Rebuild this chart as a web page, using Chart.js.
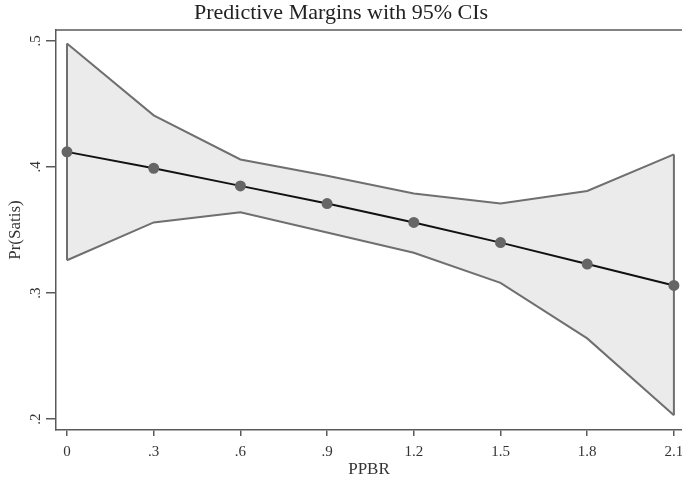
<!DOCTYPE html>
<html>
<head>
<meta charset="utf-8">
<script src="https://cdn.jsdelivr.net/npm/chart.js@4.4.0/dist/chart.umd.min.js"></script>
<style>
  body { margin: 0; background: #fff; }
  #wrap { width: 682px; height: 478px; }
</style>
</head>
<body>
<div id="wrap"><canvas id="grafica"></canvas></div>
<script>
// valores
const ppbr = [0, 0.3, 0.6, 0.9, 1.2, 1.5, 1.8, 2.1];
const margen = [0.412, 0.399, 0.385, 0.371, 0.356, 0.340, 0.323, 0.306];
const limSup = [0.498, 0.441, 0.406, 0.393, 0.379, 0.371, 0.381, 0.410];
const limInf = [0.326, 0.356, 0.364, 0.348, 0.332, 0.308, 0.264, 0.203];
const xTicks = [0, 0.3, 0.6, 0.9, 1.2, 1.5, 1.8, 2.1];
const xLabels = ['0', '.3', '.6', '.9', '1.2', '1.5', '1.8', '2.1'];
const yTicks = [0.2, 0.3, 0.4, 0.5];
const yLabels = ['.2', '.3', '.4', '.5'];

const serif = '"Liberation Serif", "DejaVu Serif", serif';
const ejeColor = '#5a5a5a';

const pts = arr => arr.map((v, i) => ({ x: ppbr[i], y: v }));
const last = ppbr.length - 1;

// bordes verticales de la banda
const borde = i => [{ x: ppbr[i], y: limInf[i] }, { x: ppbr[i], y: limSup[i] }];

// etiquetas rotadas del eje Y y borde superior
const extras = {
  id: 'extras',
  afterDraw(chart) {
    const c = chart.ctx;
    const y = chart.scales.y;
    const area = chart.chartArea;
    c.save();
    c.strokeStyle = ejeColor;
    c.lineWidth = 1.5;
    c.beginPath();
    c.moveTo(area.left, area.top);
    c.lineTo(chart.width, area.top);
    c.stroke();
    c.fillStyle = '#333';
    c.font = '15px ' + serif;
    c.textAlign = 'center';
    c.textBaseline = 'middle';
    yTicks.forEach((v, i) => {
      c.save();
      c.translate(area.left - 20, y.getPixelForValue(v));
      c.rotate(-Math.PI / 2);
      c.fillText(yLabels[i], 0, 0);
      c.restore();
    });
    c.restore();
  }
};

const lineaCI = { borderColor: '#6f6f6f', borderWidth: 2, pointRadius: 0, fill: false };

new Chart(document.getElementById('grafica').getContext('2d'), {
  type: 'line',
  data: {
    datasets: [
      {
        label: 'Margen',
        data: pts(margen),
        borderColor: '#111',
        borderWidth: 2,
        pointRadius: 4.5,
        pointBackgroundColor: '#666',
        pointBorderColor: '#666',
        fill: false
      },
      Object.assign({}, lineaCI, { label: 'Superior', data: pts(limSup), backgroundColor: '#ebebeb', fill: '+1' }),
      Object.assign({}, lineaCI, { label: 'Inferior', data: pts(limInf) }),
      Object.assign({}, lineaCI, { label: 'Borde izq', data: borde(0) }),
      Object.assign({}, lineaCI, { label: 'Borde der', data: borde(last) })
    ]
  },
  options: {
    responsive: true,
    maintainAspectRatio: false,
    animation: false,
    layout: { autoPadding: false },
    plugins: {
      legend: { display: false },
      tooltip: { enabled: false },
      filler: { drawTime: 'beforeDatasetsDraw' },
      title: {
        display: true,
        text: 'Predictive Margins with 95% CIs',
        color: '#222',
        font: { family: serif, size: 22, weight: 'normal', lineHeight: 1.2 },
        padding: { top: 0, bottom: 3.6 }
      }
    },
    scales: {
      x: {
        type: 'linear',
        min: -0.038,
        max: 2.128,
        afterBuildTicks: s => { s.ticks = xTicks.map(v => ({ value: v })); },
        afterFit: s => { s.height = 48; s.paddingLeft = 0; s.paddingRight = 0; },
        ticks: {
          callback: (v, i) => xLabels[i],
          color: '#333',
          font: { family: serif, size: 15 },
          padding: 7,
          maxRotation: 0,
          autoSkip: false
        },
        grid: { drawOnChartArea: false, tickLength: 6, color: ejeColor, lineWidth: 1.5 },
        border: { color: ejeColor, width: 1.5 },
        title: {
          display: true,
          text: 'PPBR',
          color: '#333',
          font: { family: serif, size: 17, lineHeight: 1 },
          padding: { top: 0, bottom: 0 }
        }
      },
      y: {
        min: 0.1913,
        max: 0.5087,
        afterBuildTicks: s => { s.ticks = yTicks.map(v => ({ value: v })); },
        afterFit: s => { s.width = 56; s.paddingTop = 0; s.paddingBottom = 0; },
        ticks: { color: 'rgba(0,0,0,0)', font: { family: serif, size: 15 } },
        grid: { drawOnChartArea: false, tickLength: 10, color: ejeColor, lineWidth: 1.5 },
        border: { color: ejeColor, width: 1.5 },
        title: {
          display: true,
          text: 'Pr(Satis)',
          color: '#333',
          font: { family: serif, size: 17, lineHeight: 1 },
          padding: { top: 7, bottom: 0 }
        }
      }
    }
  },
  plugins: [extras]
});
</script>
</body>
</html>
